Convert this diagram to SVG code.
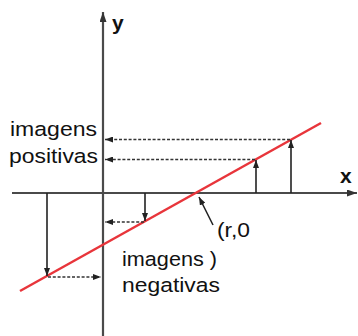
<svg xmlns="http://www.w3.org/2000/svg" width="358" height="336" viewBox="0 0 358 336">
  <defs>
    <style>
      .axis { stroke: #4a4a4a; stroke-width: 2.2; fill: none; }
      .fn { stroke: #e8353b; stroke-width: 2.5; fill: none; }
      .arr { stroke: #222; stroke-width: 1.6; fill: none; }
      .dash { stroke: #333; stroke-width: 1.6; stroke-dasharray: 3 1.8; fill: none; }
      .lbl { font-family: "Liberation Sans", Arial, sans-serif; font-size: 20.5px; fill: #111; }
      .ax { font-family: "Liberation Sans", Arial, sans-serif; font-size: 21px; font-weight: bold; fill: #111; }
    </style>
    <marker id="ah" viewBox="0 0 8 6" refX="8" refY="3" markerWidth="8" markerHeight="6" markerUnits="userSpaceOnUse" orient="auto">
      <path d="M0,0 L8,3 L0,6 z" fill="#222"/>
    </marker>
    <marker id="axh" viewBox="0 0 10 7" refX="10" refY="3.5" markerWidth="10" markerHeight="7" markerUnits="userSpaceOnUse" orient="auto">
      <path d="M0,0 L10,3.5 L0,7 z" fill="#333"/>
    </marker>
  </defs>
  <g id="axes">
    <line class="axis" x1="103" y1="336" x2="103" y2="12" marker-end="url(#axh)"/>
    <line class="axis" x1="12" y1="193" x2="357" y2="193" marker-end="url(#axh)"/>
    <text class="ax" x="112" y="30">y</text>
    <text class="ax" x="340" y="183">x</text>
  </g>
  <g id="function">
    <line class="fn" x1="20" y1="291" x2="321" y2="123"/>
  </g>
  <g id="connectors">
    <line class="arr" x1="291" y1="193" x2="291" y2="140" marker-end="url(#ah)"/>
    <line class="arr" x1="256" y1="193" x2="256" y2="160" marker-end="url(#ah)"/>
    <line class="arr" x1="145" y1="193" x2="145" y2="221" marker-end="url(#ah)"/>
    <line class="arr" x1="47" y1="193" x2="47" y2="276" marker-end="url(#ah)"/>
    <line class="dash" x1="290" y1="139.5" x2="105" y2="139.5" marker-end="url(#ah)"/>
    <line class="dash" x1="255" y1="159.5" x2="105" y2="159.5" marker-end="url(#ah)"/>
    <line class="dash" x1="144" y1="222" x2="105" y2="222" marker-end="url(#ah)"/>
    <line class="dash" x1="48" y1="277" x2="101" y2="277" marker-end="url(#ah)"/>
    <line class="arr" x1="213" y1="225" x2="199" y2="197" marker-end="url(#ah)"/>
  </g>
  <g id="labels">
    <text class="lbl" x="10" y="136" textLength="87" lengthAdjust="spacingAndGlyphs">imagens</text>
    <text class="lbl" x="9" y="163" textLength="89" lengthAdjust="spacingAndGlyphs">positivas</text>
    <text class="lbl" x="217" y="237" textLength="33" lengthAdjust="spacingAndGlyphs">(r,0</text>
    <text class="lbl" x="122" y="266" textLength="95" lengthAdjust="spacingAndGlyphs">imagens )</text>
    <text class="lbl" x="122" y="292" textLength="98" lengthAdjust="spacingAndGlyphs">negativas</text>
  </g>
</svg>
